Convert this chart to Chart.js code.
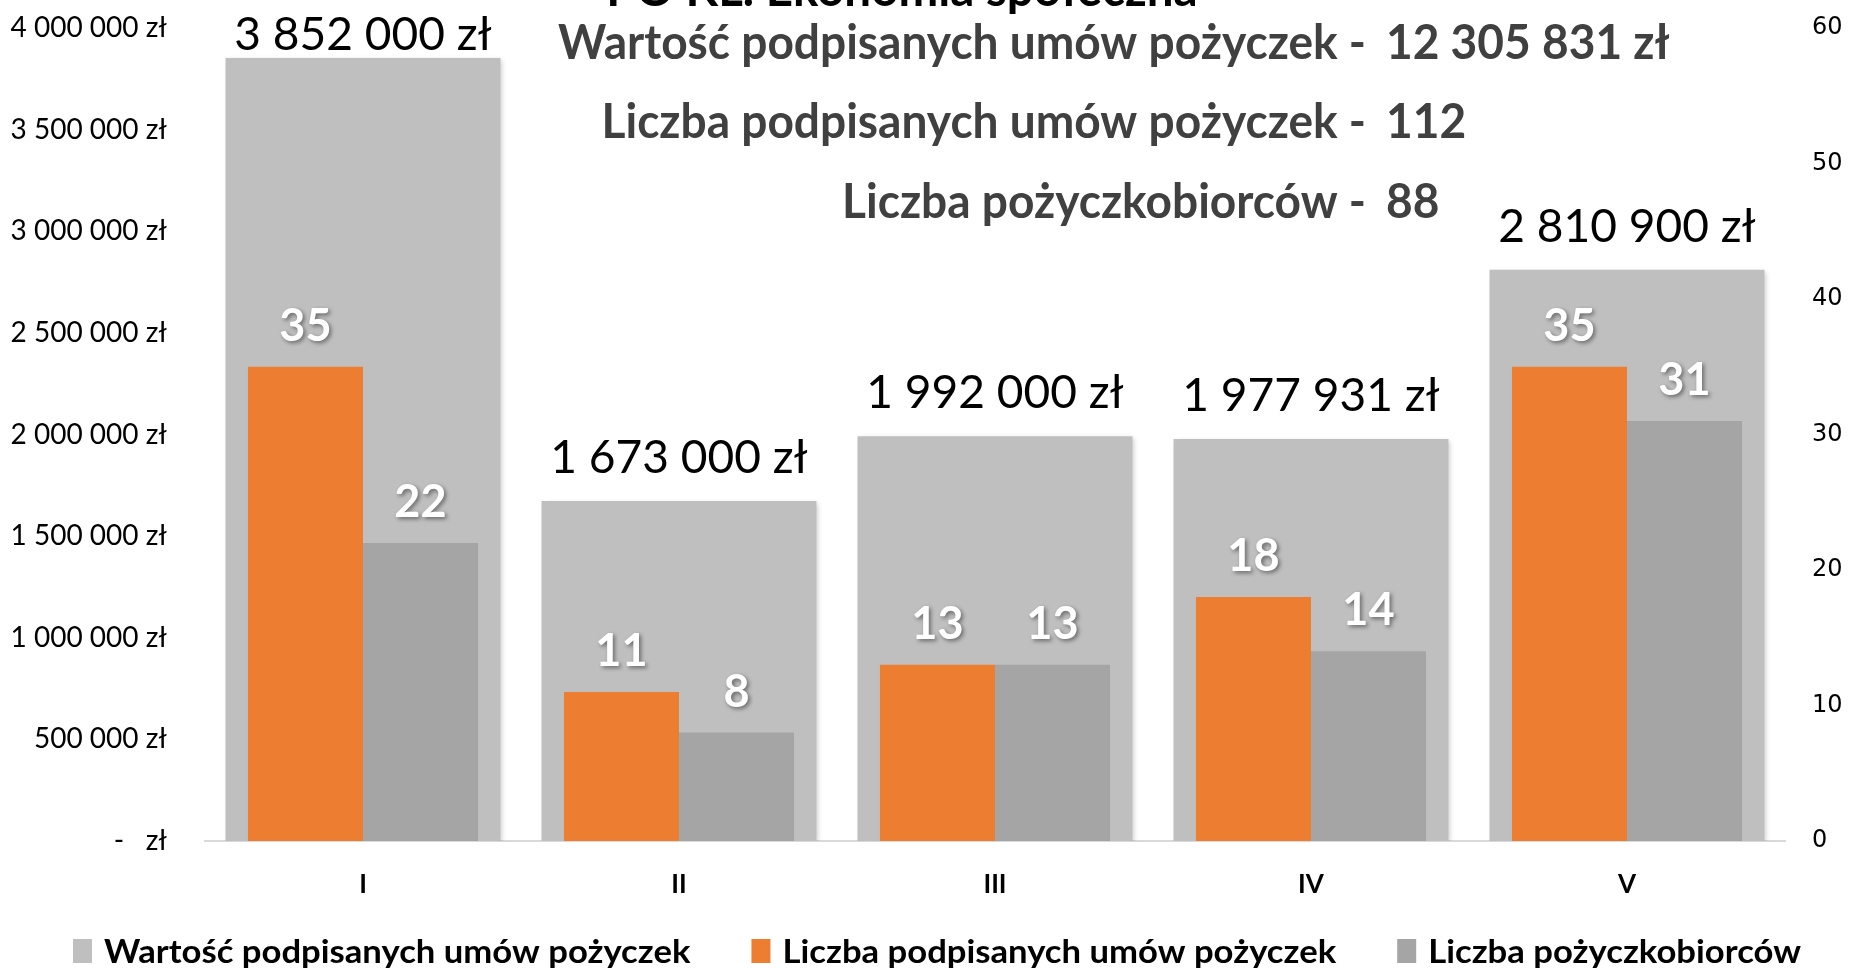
<!DOCTYPE html>
<html>
<head>
<meta charset="utf-8">
<script src="https://cdn.jsdelivr.net/npm/chart.js@4.4.1/dist/chart.umd.min.js"></script>
<style>
  html, body { margin: 0; padding: 0; background: #fff; }
  #wrap { width: 1849px; height: 968px; position: relative; }
</style>
</head>
<body>
<div id="wrap"><canvas id="loanChart"></canvas></div>
<script>
// data
var categories = ['I', 'II', 'III', 'IV', 'V'];
var loanValues = [3852000, 1673000, 1992000, 1977931, 2810900];
var loanCounts = [35, 11, 13, 18, 35];
var borrowerCounts = [22, 8, 13, 14, 31];
var seriesNames = ['Wartość podpisanych umów pożyczek', 'Liczba podpisanych umów pożyczek', 'Liczba pożyczkobiorców'];
var titleText = 'PO KL. Ekonomia społeczna';
var summaryLabels = ['Wartość podpisanych umów pożyczek -', 'Liczba podpisanych umów pożyczek -', 'Liczba pożyczkobiorców -'];
var summaryValues = ['12 305 831 zł', '112', '88'];

function formatZl(v) {
    if (v === 0) return '-   zł';
    return String(v).replace(/\B(?=(\d{3})+(?!\d))/g, ' ') + ' zł';
}

// draw text stretched/squeezed horizontally, closer to the original face
function squeezedText(ctx, txt, x, y, sx, align) {
    ctx.save();
    ctx.translate(x, y);
    ctx.scale(sx, 1);
    ctx.textAlign = align || 'center';
    ctx.fillText(txt, 0, 0);
    ctx.restore();
}

var labelPlugin = {
    id: 'labelPlugin',
    beforeDatasetDraw: function (chart, args) {
        if (args.index === 0) {
            var ctx = chart.ctx;
            ctx.save();
            ctx.shadowColor = 'rgba(0,0,0,0.22)';
            ctx.shadowBlur = 5;
            ctx.shadowOffsetX = 2;
            ctx.shadowOffsetY = 2;
        }
    },
    afterDatasetDraw: function (chart, args) {
        if (args.index === 0) chart.ctx.restore();
    },
    afterDatasetsDraw: function (chart) {
        var ctx = chart.ctx;
        ctx.save();
        ctx.textBaseline = 'alphabetic';

        // values above the wide bars
        ctx.fillStyle = '#000';
        ctx.font = '47px Lato';
        chart.getDatasetMeta(0).data.forEach(function (bar, i) {
            var y = Math.max(bar.y - 28, 50);
            squeezedText(ctx, formatZl(loanValues[i]), bar.x, y, 0.98);
        });

        // white counts above the narrow bars
        ctx.font = 'bold 46px Lato';
        ctx.fillStyle = '#fff';
        ctx.shadowColor = 'rgba(0,0,0,0.45)';
        ctx.shadowBlur = 4;
        ctx.shadowOffsetX = 2;
        ctx.shadowOffsetY = 2;
        [1, 2].forEach(function (di) {
            var vals = di === 1 ? loanCounts : borrowerCounts;
            chart.getDatasetMeta(di).data.forEach(function (bar, i) {
                squeezedText(ctx, String(vals[i]), bar.x, bar.y - 26, 0.98);
            });
        });
        ctx.restore();
    },
    afterDraw: function (chart) {
        var ctx = chart.ctx;
        ctx.save();
        ctx.textBaseline = 'alphabetic';

        // title, mostly cut off by the top edge
        ctx.fillStyle = '#000';
        ctx.font = 'bold 50px Lato';
        squeezedText(ctx, titleText, 902, 6, 0.95);

        // summary lines
        ctx.fillStyle = '#404040';
        ctx.font = 'bold 47px Lato';
        var baselines = [59, 138, 218];
        for (var i = 0; i < summaryLabels.length; i++) {
            squeezedText(ctx, summaryLabels[i], 1366, baselines[i], 0.98, 'right');
            squeezedText(ctx, summaryValues[i], 1386, baselines[i], 0.98, 'left');
        }

        // legend along the bottom
        ctx.font = 'bold 33px Lato';
        var x = 73;
        chart.data.datasets.forEach(function (ds) {
            ctx.fillStyle = ds.backgroundColor;
            ctx.fillRect(x, 939, 19, 24);
            ctx.fillStyle = '#000';
            squeezedText(ctx, ds.label, x + 31, 963, 1.05, 'left');
            x += 31 + ctx.measureText(ds.label).width * 1.05 + 61;
        });
        ctx.restore();
    }
};

// vertical axes: keep tick padding from pushing the plot area down
function fixSideAxis(width) {
    return function (scale) {
        scale.width = width;
        scale.paddingTop = 0;
        scale.paddingBottom = 0;
    };
}

var ctx = document.getElementById('loanChart');

new Chart(ctx, {
    type: 'bar',
    data: {
        labels: categories,
        datasets: [{
            label: seriesNames[0],
            data: loanValues,
            backgroundColor: '#BFBFBF',
            yAxisID: 'y',
            grouped: false,
            order: 1,
            barPercentage: 0.87,
            categoryPercentage: 1
        }, {
            label: seriesNames[1],
            data: loanCounts,
            backgroundColor: '#ED7D31',
            yAxisID: 'y1',
            order: 0,
            barPercentage: 1,
            categoryPercentage: 0.728
        }, {
            label: seriesNames[2],
            data: borrowerCounts,
            backgroundColor: '#A5A5A5',
            yAxisID: 'y1',
            order: 0,
            barPercentage: 1,
            categoryPercentage: 0.728
        }]
    },
    options: {
        responsive: true,
        maintainAspectRatio: false,
        animation: false,
        layout: {
            padding: { top: 28, left: 0, right: 0, bottom: 57 }
        },
        plugins: {
            legend: { display: false },
            tooltip: { enabled: false }
        },
        scales: {
            x: {
                grid: { display: false, drawTicks: false },
                border: { display: true, color: '#D9D9D9', width: 2 },
                ticks: {
                    color: '#000',
                    font: { family: 'Lato', size: 26, weight: 'bold' },
                    padding: 28
                },
                afterFit: function (scale) { scale.height = 70; }
            },
            y: {
                position: 'left',
                min: 0,
                max: 4000000,
                grid: { display: false, drawTicks: false },
                border: { display: false },
                ticks: {
                    stepSize: 500000,
                    color: '#000',
                    font: { family: 'Lato', size: 28 },
                    padding: 38,
                    callback: function (v) { return formatZl(v); }
                },
                afterFit: fixSideAxis(205)
            },
            y1: {
                position: 'right',
                min: 0,
                max: 60,
                grid: { display: false, drawTicks: false },
                border: { display: false },
                ticks: {
                    stepSize: 10,
                    color: '#000',
                    font: { family: 'DejaVu Sans', size: 24 },
                    padding: 27
                },
                afterFit: fixSideAxis(64)
            }
        }
    },
    plugins: [labelPlugin]
});
</script>
</body>
</html>
